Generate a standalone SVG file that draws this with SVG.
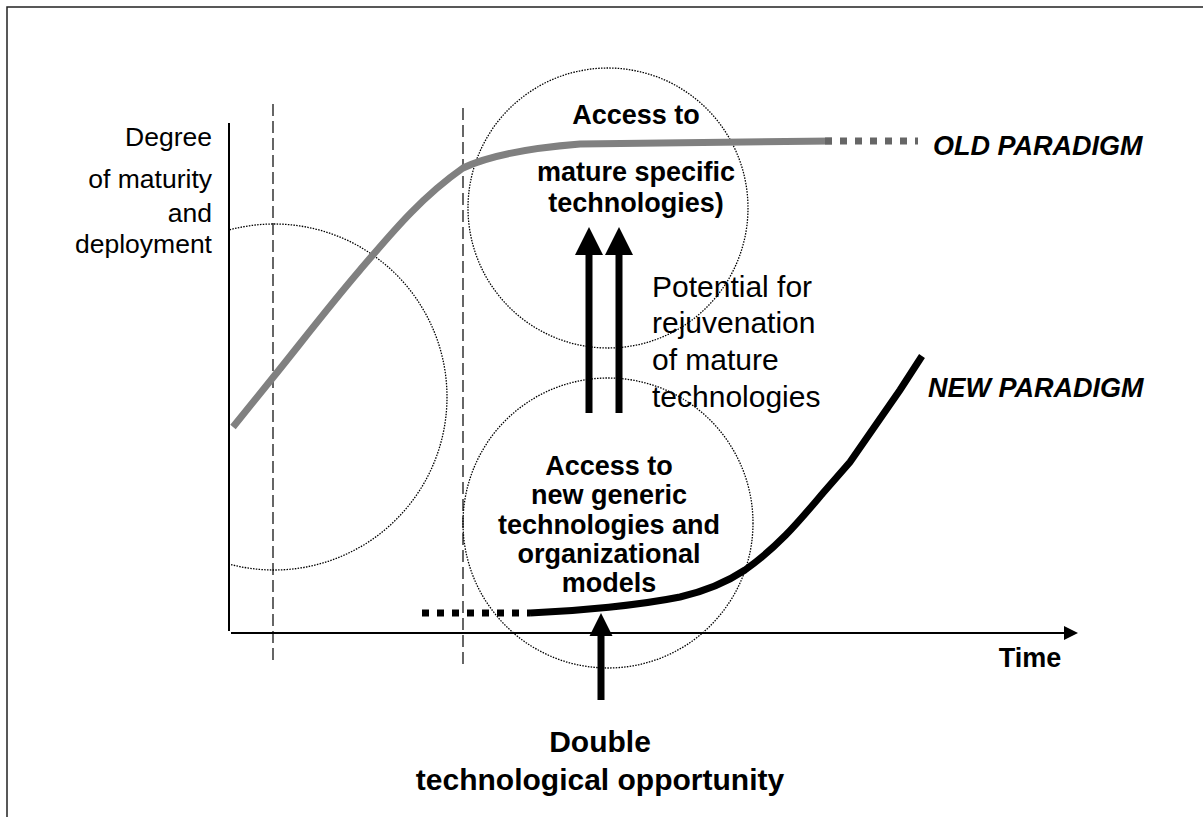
<svg xmlns="http://www.w3.org/2000/svg" width="1203" height="817" viewBox="0 0 1203 817">
  <style>
    .lbl { font-family: "Liberation Sans", Arial, sans-serif; fill: #000; }
    .reg { font-size: 30px; }
    .axis-t { font-size: 26.5px; }
    .b27 { font-size: 27px; font-weight: bold; }
    .b30 { font-size: 30px; font-weight: bold; }
    .bi { font-size: 27px; font-weight: bold; font-style: italic; }
    .dotc { fill: none; stroke: #000; stroke-width: 1.3; stroke-dasharray: 1.5 1.3; }
    .vdash { stroke: #000; stroke-width: 1.2; stroke-dasharray: 12 5; }
    .axis { stroke: #000; stroke-width: 2; fill: none; }
    .arrow { fill: #000; }
  </style>
  <defs>
    <clipPath id="rightOfAxis"><rect x="229" y="0" width="1000" height="817"/></clipPath>
  </defs>
  <rect x="0" y="0" width="1203" height="817" fill="#fff"/>
  <rect id="frame" x="7" y="7" width="1260" height="900" fill="none" stroke="#222" stroke-width="1.5"/>

  <g id="zones">
    <circle id="zone-left" class="dotc" cx="274" cy="397" r="173" clip-path="url(#rightOfAxis)"/>
    <circle id="zone-mature" class="dotc" cx="608" cy="208" r="140"/>
    <circle id="zone-new" class="dotc" cx="608" cy="523" r="145"/>
  </g>

  <g id="guides">
    <line class="vdash" x1="273" y1="104" x2="273" y2="662"/>
    <line class="vdash" x1="463" y1="108" x2="463" y2="665"/>
  </g>

  <g id="axes">
    <line class="axis" x1="229" y1="123" x2="229" y2="631"/>
    <line class="axis" x1="231" y1="633" x2="1066" y2="633"/>
    <polygon class="arrow" points="1078,633 1064,626 1064,640"/>
  </g>

  <g id="old-paradigm-curve">
    <path d="M233,427 L275,375 C300,344 330,305 360,270 C390,235 420,198 463,168 C490,155 530,148 580,144 L832,141" fill="none" stroke="#808080" stroke-width="7"/>
    <line x1="825" y1="141" x2="918" y2="141" stroke="#666" stroke-width="7" stroke-dasharray="7 8"/>
  </g>

  <g id="new-paradigm-curve">
    <line x1="422" y1="613" x2="530" y2="613" stroke="#000" stroke-width="7" stroke-dasharray="7 8"/>
    <path d="M530,613 C580,611 640,605 680,597 C710,590 730,580 745,570 C780,545 800,520 823,493 L850,462 L900,390 L922,356" fill="none" stroke="#000" stroke-width="7"/>
  </g>

  <g id="connectors">
    <g id="arrow-rejuv-1">
      <rect x="585.5" y="254" width="7" height="159" class="arrow"/>
      <polygon class="arrow" points="589,227 575,255 603,255"/>
    </g>
    <g id="arrow-rejuv-2">
      <rect x="615.5" y="254" width="7" height="159" class="arrow"/>
      <polygon class="arrow" points="619,227 605,255 633,255"/>
    </g>
    <g id="arrow-opportunity">
      <rect x="597.5" y="634" width="7" height="66" class="arrow"/>
      <polygon class="arrow" points="601,613 589.5,636 612.5,636"/>
    </g>
  </g>

  <g id="y-label">
    <text class="lbl axis-t" text-anchor="end" x="212" y="146">Degree</text>
    <text class="lbl axis-t" text-anchor="end" x="212" y="188">of maturity</text>
    <text class="lbl axis-t" text-anchor="end" x="212" y="222">and</text>
    <text class="lbl axis-t" text-anchor="end" x="212" y="253">deployment</text>
  </g>

  <g id="x-label">
    <text class="lbl b27" text-anchor="middle" x="1030" y="667">Time</text>
  </g>

  <g id="mature-label">
    <text class="lbl b27" text-anchor="middle" x="636" y="124">Access to</text>
    <text class="lbl b27" text-anchor="middle" x="636" y="181">mature specific</text>
    <text class="lbl b27" text-anchor="middle" x="636" y="212">technologies)</text>
  </g>

  <g id="new-label">
    <text class="lbl b27" text-anchor="middle" x="609" y="475">Access to</text>
    <text class="lbl b27" text-anchor="middle" x="609" y="504">new generic</text>
    <text class="lbl b27" text-anchor="middle" x="609" y="534">technologies and</text>
    <text class="lbl b27" text-anchor="middle" x="609" y="563">organizational</text>
    <text class="lbl b27" text-anchor="middle" x="609" y="592">models</text>
  </g>

  <g id="rejuv-label">
    <text class="lbl reg" x="652" y="297">Potential for</text>
    <text class="lbl reg" x="652" y="333">rejuvenation</text>
    <text class="lbl reg" x="652" y="370">of mature</text>
    <text class="lbl reg" x="652" y="407">technologies</text>
  </g>

  <g id="paradigm-labels">
    <text class="lbl bi" x="933" y="155">OLD PARADIGM</text>
    <text class="lbl bi" x="928" y="397">NEW PARADIGM</text>
  </g>

  <g id="opportunity-label">
    <text class="lbl b30" text-anchor="middle" x="600" y="752">Double</text>
    <text class="lbl b30" text-anchor="middle" x="600" y="790">technological opportunity</text>
  </g>
</svg>
